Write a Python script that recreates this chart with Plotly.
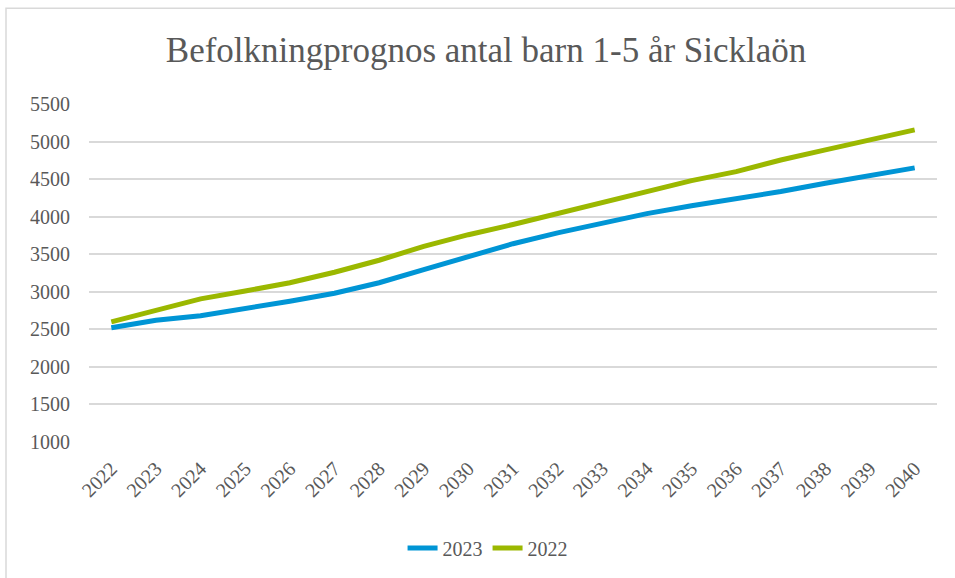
import plotly.graph_objects as go

years = [str(y) for y in range(2022, 2041)]
prog_2023 = [2520, 2620, 2680, 2770, 2875, 2980, 3120, 3295, 3475, 3640, 3785, 3915, 4040, 4145, 4235, 4335, 4445, 4545, 4650]
prog_2022 = [2600, 2750, 2905, 3010, 3120, 3260, 3420, 3605, 3760, 3895, 4040, 4175, 4335, 4480, 4600, 4755, 4890, 5020, 5155]
y_ticks = [1000, 1500, 2000, 2500, 3000, 3500, 4000, 4500, 5000, 5500]

FONT = "Liberation Serif"
GRAY = "#595959"

fig = go.Figure()
fig.add_trace(go.Scatter(x=years, y=prog_2023, name="2023", mode="lines",
                         line=dict(color="#0095D5", width=5)))
fig.add_trace(go.Scatter(x=years, y=prog_2022, name="2022", mode="lines",
                         line=dict(color="#9BB800", width=5)))

W, H = 955, 578
l, r, t, b = 89, 18, 104, 135
pw, ph = W - l - r, H - t - b

fig.update_layout(
    width=W, height=H,
    margin=dict(l=l, r=r, t=t, b=b),
    paper_bgcolor="white", plot_bgcolor="white",
    font=dict(family=FONT, color=GRAY, size=20),
    title=dict(text="Befolkningprognos antal barn 1-5 år Sicklaön",
               x=0.509, xanchor="center", y=1 - 50 / H, yanchor="middle",
               font=dict(family=FONT, size=35, color=GRAY)),
    xaxis=dict(type="category", showgrid=False, showline=False, ticks="",
               tickangle=-45, tickfont=dict(size=20, color=GRAY),
               ticklabelstandoff=10, range=[-0.5, 18.5]),
    yaxis=dict(range=[1000, 5500], tickvals=y_ticks, showgrid=True,
               gridcolor="#D9D9D9", gridwidth=1.5, zeroline=False, showline=False,
               ticks="", tickfont=dict(size=20, color=GRAY), ticklabelstandoff=18),
    legend=dict(orientation="h", x=0.47, xanchor="center", y=-(548 - 443) / ph,
                yanchor="middle", font=dict(size=20, color=GRAY)),
    showlegend=True,
    shapes=[dict(type="rect", xref="paper", yref="paper",
                 x0=(6 - l) / pw, x1=(962 - l) / pw,
                 y0=(443 - 590) / ph, y1=(443 - 8) / ph,
                 line=dict(color="#D9D9D9", width=1.5), fillcolor="rgba(0,0,0,0)",
                 layer="below")],
)

fig.write_html("out.html", config={"displayModeBar": False},
               post_script="document.body.style.margin='0px';")
